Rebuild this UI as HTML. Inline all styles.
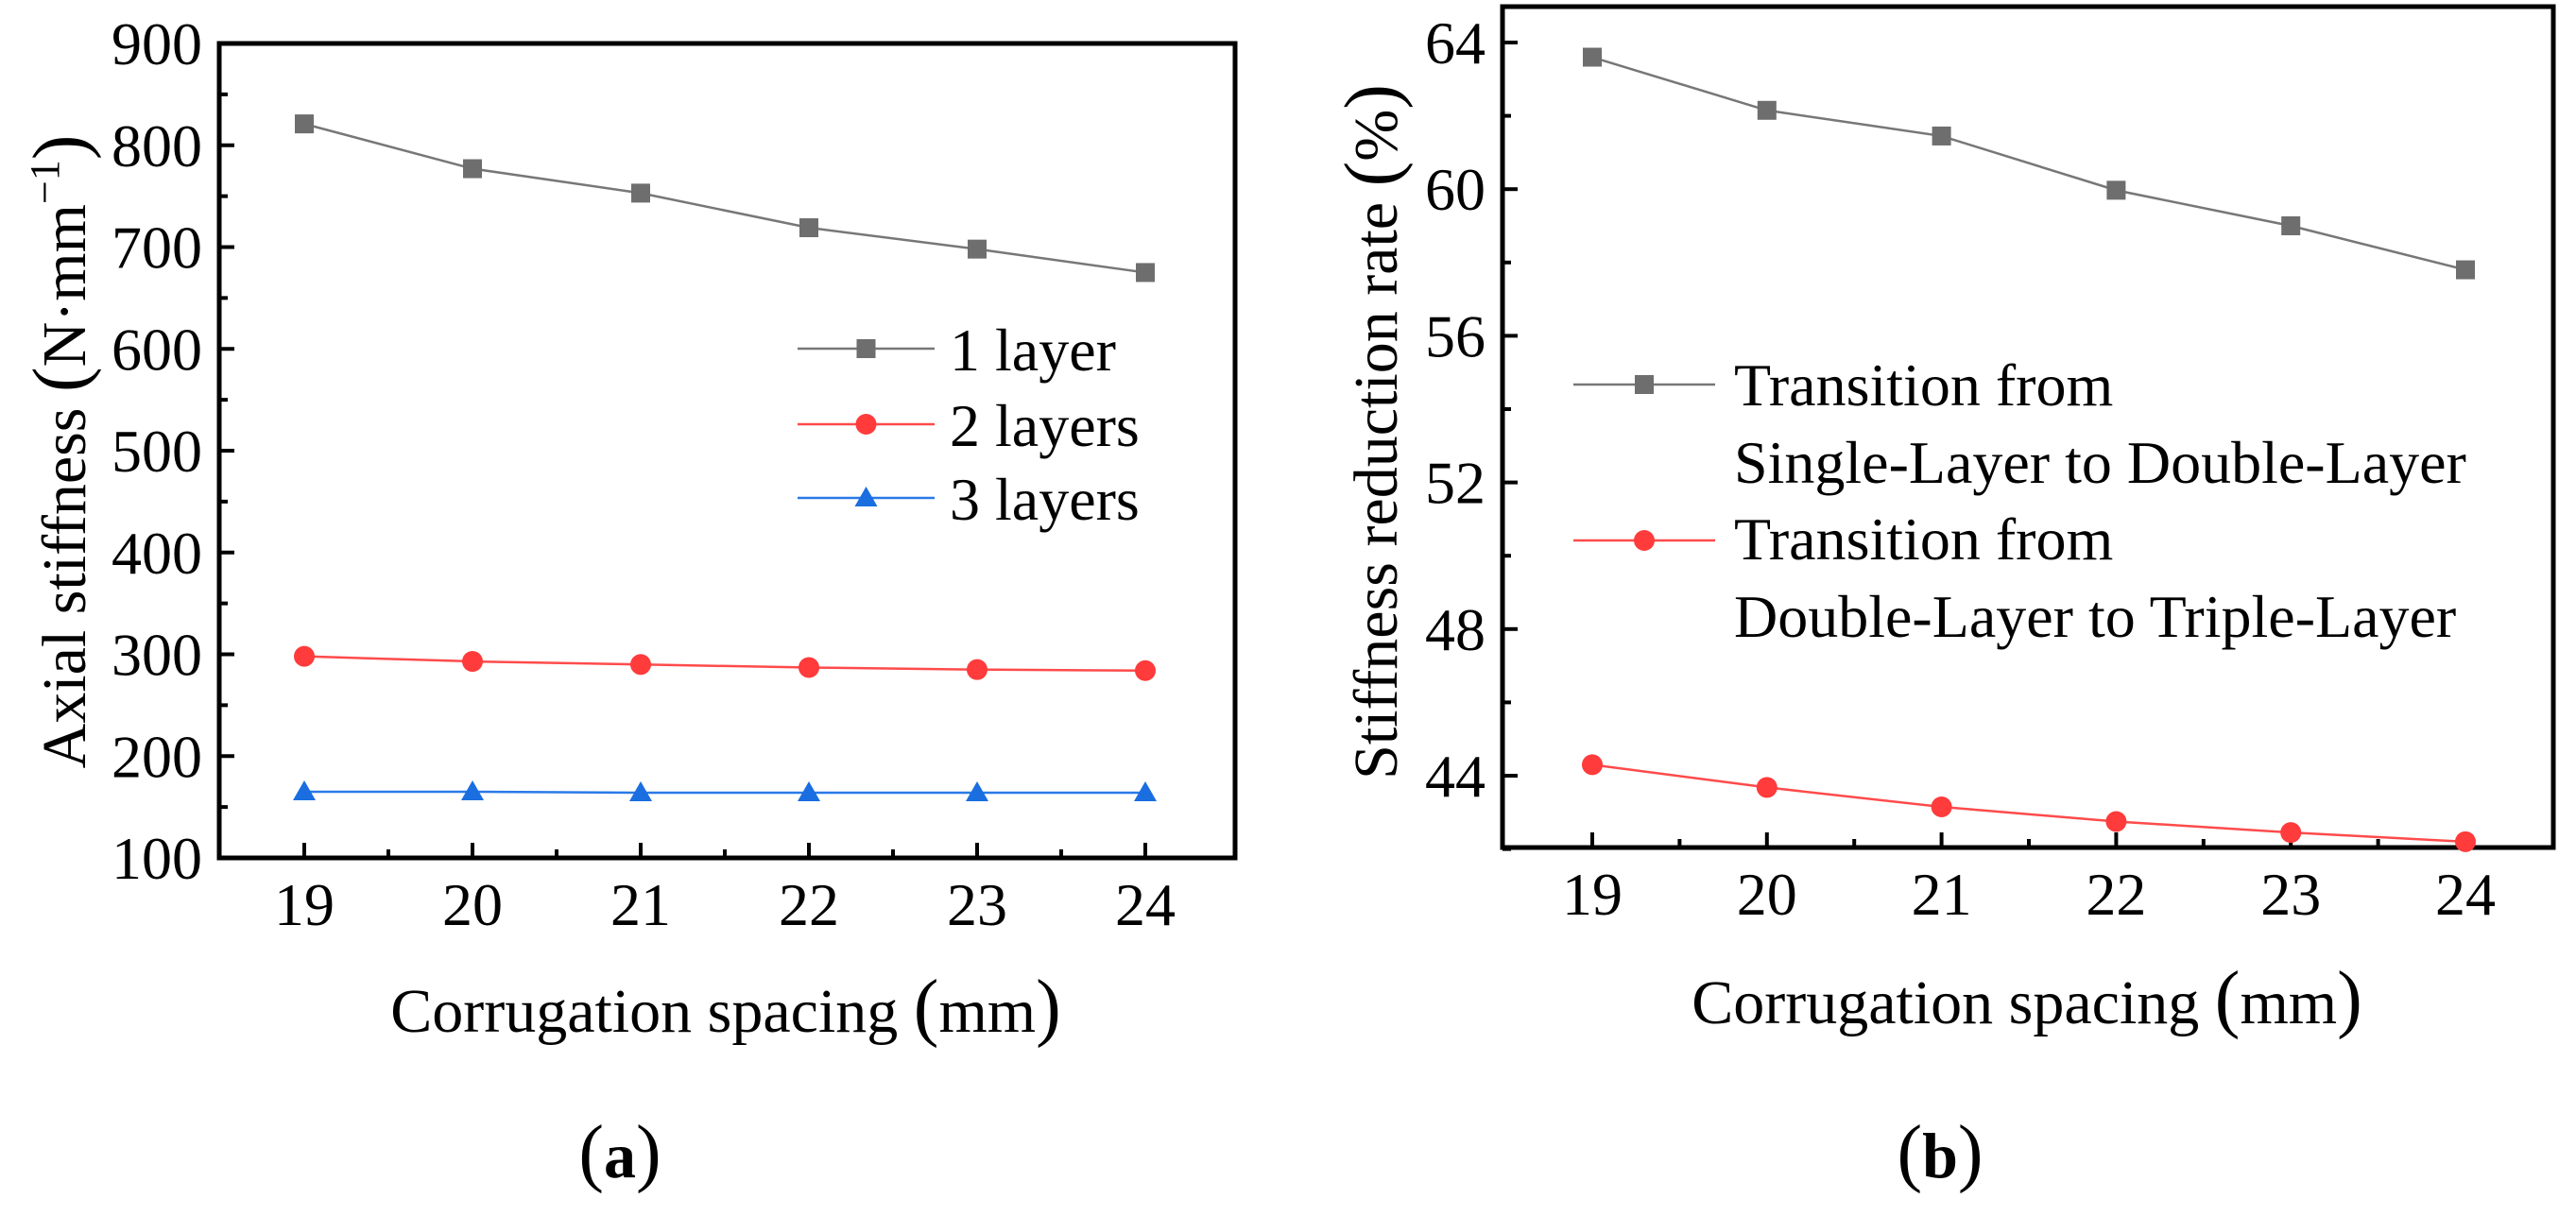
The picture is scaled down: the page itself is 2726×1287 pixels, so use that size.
<!DOCTYPE html>
<html><head><meta charset="utf-8"><style>
html,body{margin:0;padding:0;background:#fff;}
svg, svg text, svg tspan{font-family:"Liberation Serif","Times New Roman","DejaVu Serif",serif;}
</style></head><body>
<svg id="fig" width="2726" height="1282" viewBox="0 0 2726 1282" xmlns="http://www.w3.org/2000/svg" font-family="Liberation Serif, Times New Roman, DejaVu Serif, serif"></svg>
<script>
const xCategories=[19,20,21,22,23,24];
const aOneLayer=[821,777,753,719,698,675];
const aTwoLayers=[298,293,290,287,285,284];
const aThreeLayers=[165,165,164,164,164,164];
const aYTicks=[100,200,300,400,500,600,700,800,900];
const bSingleToDouble=[63.6,62.15,61.45,59.97,59.0,57.8];
const bDoubleToTriple=[44.3,43.68,43.15,42.75,42.45,42.2];
const bYTicks=[44,48,52,56,60,64];

const NS="http://www.w3.org/2000/svg";
const svg=document.getElementById('fig');
const FF='Liberation Serif, Times New Roman, DejaVu Serif, serif';
function mk(tag,attrs,parent){const e=document.createElementNS(NS,tag);for(const k in attrs)e.setAttribute(k,attrs[k]);if(tag==='text')e.setAttribute('font-family',FF);(parent||svg).appendChild(e);return e;}

function marker(g,type,x,y,color){
  let m;
  if(type==='square'){m=mk('rect',{x:x-10,y:y-10,width:20,height:20,fill:color},g);}
  else if(type==='circle'){m=mk('circle',{cx:x,cy:y,r:11,fill:color},g);}
  else{m=mk('polygon',{points:`${x},${y-12} ${x+12},${y+9} ${x-12},${y+9}`,fill:color},g);}
  
  
}

function panel(o){
  const g=mk('g',{});
  
  
  const X=v=>o.x0+(v-xCategories[0])*o.xs;
  const Y=v=>o.yRef+(o.vRef-v)*o.ys;
  o.yTicks.forEach((t,i)=>{
    const y=Y(t);
    const tk=mk('line',{x1:o.L,x2:o.L+16,y1:y,y2:y,stroke:'#000','stroke-width':4},g);
    
    
    const tl=mk('text',{x:o.L-18,y:y+22,'text-anchor':'end','font-size':64},g);
    tl.textContent=t;
    
    
    if(i<o.yTicks.length-1){const mv=(t+o.yTicks[i+1])/2;const ym=Y(mv);
      const mt=mk('line',{x1:o.L,x2:o.L+9,y1:ym,y2:ym,stroke:'#000','stroke-width':4},g);
      
      }
  });
  if(o.extraMinor){const ym=Y(o.extraMinor);const mt=mk('line',{x1:o.L,x2:o.L+9,y1:ym,y2:ym,stroke:'#000','stroke-width':4},g);
    
    }
  xCategories.forEach((c,i)=>{
    const x=X(c);
    const tk=mk('line',{x1:x,x2:x,y1:o.B,y2:o.B-16,stroke:'#000','stroke-width':4},g);
    
    
    const tl=mk('text',{x:x,y:o.B+71,'text-anchor':'middle','font-size':64},g);
    tl.textContent=c;
    
    
    if(i<xCategories.length-1){const xm=X(c+0.5);
      const mt=mk('line',{x1:xm,x2:xm,y1:o.B,y2:o.B-9,stroke:'#000','stroke-width':4},g);
      
      }
  });
  const box=mk('rect',{x:o.L,y:o.T,width:o.R-o.L,height:o.B-o.T,fill:'none',stroke:'#000','stroke-width':5},g);
  
  
  o.series.forEach(s=>{
    const pts=s.data.map((v,i)=>X(xCategories[i])+','+Y(v)).join(' ');
    const pl=mk('polyline',{points:pts,fill:'none',stroke:s.line,'stroke-width':2.5},g);
    
    
    s.data.forEach((v,i)=>marker(g,s.type,X(xCategories[i]),Y(v),s.color));
  });
  o.legend.forEach(l=>{
    const ll=mk('line',{x1:l.x1,x2:l.x2,y1:l.y,y2:l.y,stroke:l.line,'stroke-width':2.5},g);
    
    
    marker(g,l.type,(l.x1+l.x2)/2,l.y,l.color);
    l.text.forEach((t,k)=>{
      const tx=mk('text',{x:l.tx,y:l.ty+k*82,'font-size':l.fs},g);
      tx.textContent=t;
      
      
    });
  });
  const xt=mk('text',{x:o.xtX,y:o.xtY,'text-anchor':'middle','font-size':66},g);
  xt.innerHTML='Corrugation spacing <tspan font-size="80">(</tspan>mm<tspan font-size="80">)</tspan>';
  
  
  const yt=mk('text',{x:0,y:0,'text-anchor':'middle','font-size':66,transform:`translate(${o.ytX},${o.ytY}) rotate(-90)`},g);
  yt.innerHTML=o.ytitle;
  
  
  const lab=mk('text',{x:o.labX,y:1246,'text-anchor':'middle','font-size':68},g);
  lab.innerHTML=o.label;
  
  
}

panel({name:'chart-a',L:232,R:1307,T:46,B:908,x0:322,xs:178,yRef:46,vRef:900,ys:1.0775,
  yTicks:aYTicks,
  series:[
    {name:'one-layer',data:aOneLayer,type:'square',color:'#6e6e6e',line:'#777'},
    {name:'two-layers',data:aTwoLayers,type:'circle',color:'#ff3b3b',line:'#ff4b4b'},
    {name:'three-layers',data:aThreeLayers,type:'triangle',color:'#1a6ee0',line:'#2a7ae8'}],
  legend:[
    {x1:844,x2:989,y:369,type:'square',color:'#6e6e6e',line:'#777',tx:1005,ty:392,fs:64,text:['1 layer']},
    {x1:844,x2:989,y:449,type:'circle',color:'#ff3b3b',line:'#ff4b4b',tx:1005,ty:472,fs:64,text:['2 layers']},
    {x1:844,x2:989,y:527,type:'triangle',color:'#1a6ee0',line:'#2a7ae8',tx:1005,ty:550,fs:64,text:['3 layers']}],
  xtX:768,xtY:1092,ytX:90,ytY:478,
  ytitle:'Axial stiffness <tspan font-size="80">(</tspan>N·mm<tspan font-size="44" dy="-28">−1</tspan><tspan font-size="80" dy="28">)</tspan>',
  labX:656,label:'<tspan font-size="80">(</tspan><tspan font-weight="bold">a</tspan><tspan font-size="80">)</tspan>'});

panel({name:'chart-b',L:1590,R:2702,T:7,B:897,x0:1685,xs:184.8,yRef:45,vRef:64,ys:38.8,
  yTicks:bYTicks,extraMinor:42,
  series:[
    {name:'single-to-double',data:bSingleToDouble,type:'square',color:'#6e6e6e',line:'#777'},
    {name:'double-to-triple',data:bDoubleToTriple,type:'circle',color:'#ff3b3b',line:'#ff4b4b'}],
  legend:[
    {x1:1665,x2:1815,y:407,type:'square',color:'#6e6e6e',line:'#777',tx:1835,ty:429,fs:64,text:['Transition from','Single-Layer to Double-Layer']},
    {x1:1665,x2:1815,y:572,type:'circle',color:'#ff3b3b',line:'#ff4b4b',tx:1835,ty:592,fs:64,text:['Transition from','Double-Layer to Triple-Layer']}],
  xtX:2145,xtY:1083,ytX:1478,ytY:457,
  ytitle:'Stiffness reduction rate <tspan font-size="80">(</tspan>%<tspan font-size="80">)</tspan>',
  labX:2053,label:'<tspan font-size="80">(</tspan><tspan font-weight="bold">b</tspan><tspan font-size="80">)</tspan>'});
</script>
</body></html>
